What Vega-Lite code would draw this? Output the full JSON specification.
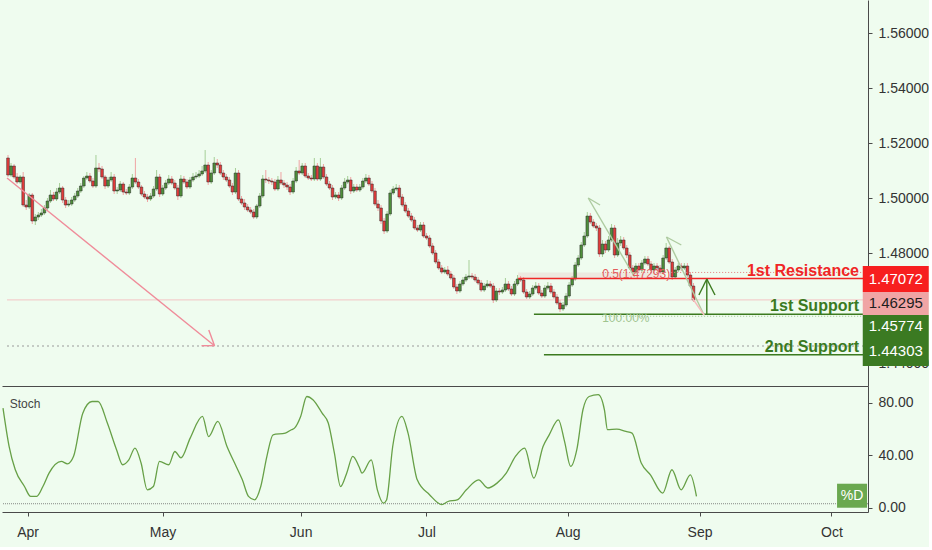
{
"$schema":"https://vega.github.io/schema/vega-lite/v6.json",
"background":"#effcef",
"padding":{"left":0,"top":0,"right":0,"bottom":8},
"spacing":0,
"datasets":{
"candles":[
{"bar":0,"o":1.51455,"h":1.51564,"l":1.50764,"c":1.50836},
{"bar":1,"o":1.50836,"h":1.51273,"l":1.50764,"c":1.51164},
{"bar":2,"o":1.51164,"h":1.51236,"l":1.50691,"c":1.50764},
{"bar":3,"o":1.50764,"h":1.50909,"l":1.50509,"c":1.50582},
{"bar":4,"o":1.50582,"h":1.50836,"l":1.50509,"c":1.50764},
{"bar":5,"o":1.50764,"h":1.50945,"l":1.49673,"c":1.49745},
{"bar":6,"o":1.49745,"h":1.49927,"l":1.49564,"c":1.49673},
{"bar":7,"o":1.49673,"h":1.50182,"l":1.496,"c":1.50109},
{"bar":8,"o":1.50109,"h":1.50182,"l":1.49055,"c":1.49164},
{"bar":9,"o":1.49164,"h":1.49418,"l":1.49018,"c":1.49309},
{"bar":10,"o":1.49309,"h":1.49491,"l":1.492,"c":1.49382},
{"bar":11,"o":1.49382,"h":1.496,"l":1.49309,"c":1.49455},
{"bar":12,"o":1.49455,"h":1.49745,"l":1.49382,"c":1.49636},
{"bar":13,"o":1.49636,"h":1.5,"l":1.49564,"c":1.49891},
{"bar":14,"o":1.49891,"h":1.50291,"l":1.49818,"c":1.50109},
{"bar":15,"o":1.50109,"h":1.50218,"l":1.49891,"c":1.49964},
{"bar":16,"o":1.49964,"h":1.50364,"l":1.49891,"c":1.50218},
{"bar":17,"o":1.50218,"h":1.50545,"l":1.50145,"c":1.50364},
{"bar":18,"o":1.50364,"h":1.50436,"l":1.49818,"c":1.49927},
{"bar":19,"o":1.49927,"h":1.50036,"l":1.49636,"c":1.49745},
{"bar":20,"o":1.49745,"h":1.49927,"l":1.49673,"c":1.49782},
{"bar":21,"o":1.49782,"h":1.50036,"l":1.49709,"c":1.49927},
{"bar":22,"o":1.49927,"h":1.50182,"l":1.49855,"c":1.50073},
{"bar":23,"o":1.50073,"h":1.50364,"l":1.5,"c":1.50255},
{"bar":24,"o":1.50255,"h":1.50545,"l":1.50182,"c":1.50436},
{"bar":25,"o":1.50436,"h":1.508,"l":1.50364,"c":1.50727},
{"bar":26,"o":1.50727,"h":1.50945,"l":1.50655,"c":1.508},
{"bar":27,"o":1.508,"h":1.50909,"l":1.50545,"c":1.50618},
{"bar":28,"o":1.50618,"h":1.50727,"l":1.50364,"c":1.50436},
{"bar":29,"o":1.50436,"h":1.51564,"l":1.50364,"c":1.51091},
{"bar":30,"o":1.51091,"h":1.51273,"l":1.50945,"c":1.51055},
{"bar":31,"o":1.51055,"h":1.51164,"l":1.50691,"c":1.50764},
{"bar":32,"o":1.50764,"h":1.50836,"l":1.50327,"c":1.50436},
{"bar":33,"o":1.50436,"h":1.50764,"l":1.50364,"c":1.50655},
{"bar":34,"o":1.50655,"h":1.50945,"l":1.50582,"c":1.50764},
{"bar":35,"o":1.50764,"h":1.50873,"l":1.50145,"c":1.50255},
{"bar":36,"o":1.50255,"h":1.504,"l":1.50145,"c":1.50291},
{"bar":37,"o":1.50291,"h":1.50618,"l":1.50218,"c":1.50509},
{"bar":38,"o":1.50509,"h":1.50582,"l":1.50109,"c":1.50218},
{"bar":39,"o":1.50218,"h":1.50327,"l":1.50109,"c":1.50182},
{"bar":40,"o":1.50182,"h":1.50509,"l":1.50109,"c":1.504},
{"bar":41,"o":1.504,"h":1.50873,"l":1.50327,"c":1.50727},
{"bar":42,"o":1.50727,"h":1.51455,"l":1.50509,"c":1.50582},
{"bar":43,"o":1.50582,"h":1.50691,"l":1.50327,"c":1.504},
{"bar":44,"o":1.504,"h":1.50473,"l":1.50073,"c":1.50145},
{"bar":45,"o":1.50145,"h":1.50255,"l":1.49964,"c":1.50036},
{"bar":46,"o":1.50036,"h":1.50145,"l":1.49855,"c":1.49964},
{"bar":47,"o":1.49964,"h":1.50182,"l":1.49891,"c":1.50073},
{"bar":48,"o":1.50073,"h":1.50436,"l":1.5,"c":1.50327},
{"bar":49,"o":1.50327,"h":1.51018,"l":1.50255,"c":1.50764},
{"bar":50,"o":1.50764,"h":1.50873,"l":1.50036,"c":1.50145},
{"bar":51,"o":1.50145,"h":1.50473,"l":1.50073,"c":1.50364},
{"bar":52,"o":1.50364,"h":1.50655,"l":1.50291,"c":1.50545},
{"bar":53,"o":1.50545,"h":1.50836,"l":1.50473,"c":1.50691},
{"bar":54,"o":1.50691,"h":1.508,"l":1.50473,"c":1.50545},
{"bar":55,"o":1.50545,"h":1.50655,"l":1.50291,"c":1.50364},
{"bar":56,"o":1.50364,"h":1.50473,"l":1.49927,"c":1.50073},
{"bar":57,"o":1.50073,"h":1.50836,"l":1.5,"c":1.50691},
{"bar":58,"o":1.50691,"h":1.508,"l":1.50509,"c":1.50582},
{"bar":59,"o":1.50582,"h":1.50691,"l":1.50327,"c":1.504},
{"bar":60,"o":1.504,"h":1.50764,"l":1.50327,"c":1.50655},
{"bar":61,"o":1.50655,"h":1.50909,"l":1.50582,"c":1.50764},
{"bar":62,"o":1.50764,"h":1.50945,"l":1.50691,"c":1.508},
{"bar":63,"o":1.508,"h":1.51018,"l":1.50727,"c":1.50873},
{"bar":64,"o":1.50873,"h":1.51164,"l":1.508,"c":1.50982},
{"bar":65,"o":1.50982,"h":1.51745,"l":1.50909,"c":1.512},
{"bar":66,"o":1.512,"h":1.51309,"l":1.50473,"c":1.50582},
{"bar":67,"o":1.50582,"h":1.51018,"l":1.50509,"c":1.50909},
{"bar":68,"o":1.50909,"h":1.51491,"l":1.50836,"c":1.51273},
{"bar":69,"o":1.51273,"h":1.51418,"l":1.51091,"c":1.512},
{"bar":70,"o":1.512,"h":1.51309,"l":1.50836,"c":1.50909},
{"bar":71,"o":1.50909,"h":1.51018,"l":1.50655,"c":1.50764},
{"bar":72,"o":1.50764,"h":1.50873,"l":1.50582,"c":1.50655},
{"bar":73,"o":1.50655,"h":1.50764,"l":1.50364,"c":1.50436},
{"bar":74,"o":1.50436,"h":1.50545,"l":1.50109,"c":1.50218},
{"bar":75,"o":1.50218,"h":1.51091,"l":1.50145,"c":1.50909},
{"bar":76,"o":1.50909,"h":1.51018,"l":1.49891,"c":1.49964},
{"bar":77,"o":1.49964,"h":1.50073,"l":1.49745,"c":1.49818},
{"bar":78,"o":1.49818,"h":1.49964,"l":1.49564,"c":1.49673},
{"bar":79,"o":1.49673,"h":1.49782,"l":1.49491,"c":1.49564},
{"bar":80,"o":1.49564,"h":1.49673,"l":1.49418,"c":1.49491},
{"bar":81,"o":1.49491,"h":1.496,"l":1.49236,"c":1.49309},
{"bar":82,"o":1.49309,"h":1.49782,"l":1.49236,"c":1.49709},
{"bar":83,"o":1.49709,"h":1.50182,"l":1.49636,"c":1.50073},
{"bar":84,"o":1.50073,"h":1.50836,"l":1.5,"c":1.50691},
{"bar":85,"o":1.50691,"h":1.51018,"l":1.50545,"c":1.50655},
{"bar":86,"o":1.50655,"h":1.50764,"l":1.50509,"c":1.50618},
{"bar":87,"o":1.50618,"h":1.50727,"l":1.50473,"c":1.50582},
{"bar":88,"o":1.50582,"h":1.50691,"l":1.50255,"c":1.50327},
{"bar":89,"o":1.50327,"h":1.508,"l":1.50255,"c":1.50655},
{"bar":90,"o":1.50655,"h":1.50945,"l":1.50473,"c":1.50545},
{"bar":91,"o":1.50545,"h":1.50655,"l":1.50364,"c":1.50473},
{"bar":92,"o":1.50473,"h":1.50582,"l":1.50291,"c":1.504},
{"bar":93,"o":1.504,"h":1.50509,"l":1.50109,"c":1.50218},
{"bar":94,"o":1.50218,"h":1.50727,"l":1.50145,"c":1.50618},
{"bar":95,"o":1.50618,"h":1.51127,"l":1.50545,"c":1.50982},
{"bar":96,"o":1.50982,"h":1.51382,"l":1.50836,"c":1.50909},
{"bar":97,"o":1.50909,"h":1.51273,"l":1.50836,"c":1.51164},
{"bar":98,"o":1.51164,"h":1.51273,"l":1.50727,"c":1.508},
{"bar":99,"o":1.508,"h":1.50909,"l":1.50655,"c":1.50727},
{"bar":100,"o":1.50727,"h":1.50836,"l":1.50618,"c":1.50691},
{"bar":101,"o":1.50691,"h":1.51455,"l":1.50618,"c":1.51164},
{"bar":102,"o":1.51164,"h":1.51273,"l":1.50618,"c":1.50691},
{"bar":103,"o":1.50691,"h":1.51455,"l":1.50618,"c":1.51127},
{"bar":104,"o":1.51127,"h":1.51236,"l":1.50691,"c":1.50764},
{"bar":105,"o":1.50764,"h":1.50873,"l":1.50436,"c":1.50509},
{"bar":106,"o":1.50509,"h":1.50618,"l":1.50291,"c":1.50364},
{"bar":107,"o":1.50364,"h":1.50473,"l":1.49927,"c":1.50036},
{"bar":108,"o":1.50036,"h":1.50218,"l":1.49964,"c":1.50109},
{"bar":109,"o":1.50109,"h":1.50218,"l":1.49891,"c":1.5},
{"bar":110,"o":1.5,"h":1.50473,"l":1.49927,"c":1.50364},
{"bar":111,"o":1.50364,"h":1.50727,"l":1.50291,"c":1.50582},
{"bar":112,"o":1.50582,"h":1.508,"l":1.50509,"c":1.50655},
{"bar":113,"o":1.50655,"h":1.50764,"l":1.50145,"c":1.50255},
{"bar":114,"o":1.50255,"h":1.50509,"l":1.50182,"c":1.504},
{"bar":115,"o":1.504,"h":1.50509,"l":1.50218,"c":1.50291},
{"bar":116,"o":1.50291,"h":1.50509,"l":1.50218,"c":1.504},
{"bar":117,"o":1.504,"h":1.50727,"l":1.50327,"c":1.50618},
{"bar":118,"o":1.50618,"h":1.50873,"l":1.50545,"c":1.50727},
{"bar":119,"o":1.50727,"h":1.50836,"l":1.50436,"c":1.50509},
{"bar":120,"o":1.50509,"h":1.50618,"l":1.50182,"c":1.50255},
{"bar":121,"o":1.50255,"h":1.50364,"l":1.49709,"c":1.49782},
{"bar":122,"o":1.49782,"h":1.49927,"l":1.49527,"c":1.49636},
{"bar":123,"o":1.49636,"h":1.49745,"l":1.49055,"c":1.49164},
{"bar":124,"o":1.49164,"h":1.49273,"l":1.48691,"c":1.488},
{"bar":125,"o":1.488,"h":1.49527,"l":1.48727,"c":1.49418},
{"bar":126,"o":1.49418,"h":1.50291,"l":1.49345,"c":1.50182},
{"bar":127,"o":1.50182,"h":1.50436,"l":1.50109,"c":1.50327},
{"bar":128,"o":1.50327,"h":1.50509,"l":1.50255,"c":1.50364},
{"bar":129,"o":1.50364,"h":1.50473,"l":1.49964,"c":1.50036},
{"bar":130,"o":1.50036,"h":1.50145,"l":1.49673,"c":1.49745},
{"bar":131,"o":1.49745,"h":1.49855,"l":1.49455,"c":1.49527},
{"bar":132,"o":1.49527,"h":1.49636,"l":1.49273,"c":1.49345},
{"bar":133,"o":1.49345,"h":1.49455,"l":1.49127,"c":1.492},
{"bar":134,"o":1.492,"h":1.49309,"l":1.48836,"c":1.48909},
{"bar":135,"o":1.48909,"h":1.49018,"l":1.48764,"c":1.48836},
{"bar":136,"o":1.48836,"h":1.49127,"l":1.48764,"c":1.49018},
{"bar":137,"o":1.49018,"h":1.49127,"l":1.48545,"c":1.48618},
{"bar":138,"o":1.48618,"h":1.48727,"l":1.48473,"c":1.48545},
{"bar":139,"o":1.48545,"h":1.48655,"l":1.48182,"c":1.48255},
{"bar":140,"o":1.48255,"h":1.48364,"l":1.47927,"c":1.48},
{"bar":141,"o":1.48,"h":1.48109,"l":1.476,"c":1.47673},
{"bar":142,"o":1.47673,"h":1.47782,"l":1.47382,"c":1.47455},
{"bar":143,"o":1.47455,"h":1.47564,"l":1.47236,"c":1.47309},
{"bar":144,"o":1.47309,"h":1.47491,"l":1.47236,"c":1.47382},
{"bar":145,"o":1.47382,"h":1.47527,"l":1.47164,"c":1.47236},
{"bar":146,"o":1.47236,"h":1.47345,"l":1.47018,"c":1.47091},
{"bar":147,"o":1.47091,"h":1.472,"l":1.46691,"c":1.46764},
{"bar":148,"o":1.46764,"h":1.46873,"l":1.46509,"c":1.46618},
{"bar":149,"o":1.46618,"h":1.46982,"l":1.46545,"c":1.46873},
{"bar":150,"o":1.46873,"h":1.47127,"l":1.468,"c":1.47018},
{"bar":151,"o":1.47018,"h":1.47236,"l":1.46945,"c":1.47127},
{"bar":152,"o":1.47127,"h":1.47745,"l":1.47055,"c":1.47164},
{"bar":153,"o":1.47164,"h":1.47273,"l":1.47055,"c":1.47127},
{"bar":154,"o":1.47127,"h":1.47236,"l":1.46945,"c":1.47018},
{"bar":155,"o":1.47018,"h":1.47127,"l":1.46836,"c":1.46909},
{"bar":156,"o":1.46909,"h":1.47018,"l":1.46582,"c":1.46655},
{"bar":157,"o":1.46655,"h":1.46909,"l":1.46582,"c":1.468},
{"bar":158,"o":1.468,"h":1.47018,"l":1.46727,"c":1.46873},
{"bar":159,"o":1.46873,"h":1.46982,"l":1.46727,"c":1.468},
{"bar":160,"o":1.468,"h":1.46909,"l":1.46182,"c":1.46291},
{"bar":161,"o":1.46291,"h":1.46727,"l":1.46218,"c":1.46618},
{"bar":162,"o":1.46618,"h":1.46727,"l":1.46473,"c":1.46582},
{"bar":163,"o":1.46582,"h":1.46764,"l":1.46509,"c":1.46655},
{"bar":164,"o":1.46655,"h":1.47091,"l":1.46582,"c":1.46873},
{"bar":165,"o":1.46873,"h":1.46982,"l":1.46618,"c":1.46691},
{"bar":166,"o":1.46691,"h":1.468,"l":1.46436,"c":1.46509},
{"bar":167,"o":1.46509,"h":1.46982,"l":1.46436,"c":1.46873},
{"bar":168,"o":1.46873,"h":1.472,"l":1.468,"c":1.47055},
{"bar":169,"o":1.47055,"h":1.47164,"l":1.46945,"c":1.47018},
{"bar":170,"o":1.47018,"h":1.47127,"l":1.46509,"c":1.46582},
{"bar":171,"o":1.46582,"h":1.46691,"l":1.46327,"c":1.464},
{"bar":172,"o":1.464,"h":1.46618,"l":1.46327,"c":1.46509},
{"bar":173,"o":1.46509,"h":1.46836,"l":1.46436,"c":1.46727},
{"bar":174,"o":1.46727,"h":1.46945,"l":1.46655,"c":1.468},
{"bar":175,"o":1.468,"h":1.46909,"l":1.46473,"c":1.46545},
{"bar":176,"o":1.46545,"h":1.46655,"l":1.46364,"c":1.46436},
{"bar":177,"o":1.46436,"h":1.46836,"l":1.46364,"c":1.46727},
{"bar":178,"o":1.46727,"h":1.46945,"l":1.46655,"c":1.468},
{"bar":179,"o":1.468,"h":1.46909,"l":1.46509,"c":1.46582},
{"bar":180,"o":1.46582,"h":1.46691,"l":1.46327,"c":1.464},
{"bar":181,"o":1.464,"h":1.46509,"l":1.46109,"c":1.46182},
{"bar":182,"o":1.46182,"h":1.46291,"l":1.45855,"c":1.45964},
{"bar":183,"o":1.45964,"h":1.46218,"l":1.45891,"c":1.46109},
{"bar":184,"o":1.46109,"h":1.46545,"l":1.46036,"c":1.46436},
{"bar":185,"o":1.46436,"h":1.46945,"l":1.46364,"c":1.46836},
{"bar":186,"o":1.46836,"h":1.47164,"l":1.46764,"c":1.47055},
{"bar":187,"o":1.47055,"h":1.47673,"l":1.46982,"c":1.47564},
{"bar":188,"o":1.47564,"h":1.47927,"l":1.47491,"c":1.47818},
{"bar":189,"o":1.47818,"h":1.484,"l":1.47745,"c":1.48291},
{"bar":190,"o":1.48291,"h":1.48764,"l":1.48218,"c":1.48618},
{"bar":191,"o":1.48618,"h":1.49491,"l":1.48545,"c":1.49345},
{"bar":192,"o":1.49345,"h":1.49455,"l":1.49055,"c":1.49127},
{"bar":193,"o":1.49127,"h":1.49236,"l":1.48909,"c":1.48982},
{"bar":194,"o":1.48982,"h":1.49091,"l":1.488,"c":1.48909},
{"bar":195,"o":1.48909,"h":1.49018,"l":1.47855,"c":1.47964},
{"bar":196,"o":1.47964,"h":1.48473,"l":1.47855,"c":1.48327},
{"bar":197,"o":1.48327,"h":1.48436,"l":1.48,"c":1.48109},
{"bar":198,"o":1.48109,"h":1.48618,"l":1.48036,"c":1.48473},
{"bar":199,"o":1.48473,"h":1.49055,"l":1.484,"c":1.48909},
{"bar":200,"o":1.48909,"h":1.49018,"l":1.47818,"c":1.47927},
{"bar":201,"o":1.47927,"h":1.48545,"l":1.47855,"c":1.48364},
{"bar":202,"o":1.48364,"h":1.48618,"l":1.48255,"c":1.48473},
{"bar":203,"o":1.48473,"h":1.48582,"l":1.48109,"c":1.48182},
{"bar":204,"o":1.48182,"h":1.48291,"l":1.47818,"c":1.47927},
{"bar":205,"o":1.47927,"h":1.48036,"l":1.47382,"c":1.47455},
{"bar":206,"o":1.47455,"h":1.47564,"l":1.472,"c":1.47309},
{"bar":207,"o":1.47309,"h":1.47636,"l":1.47236,"c":1.47527},
{"bar":208,"o":1.47527,"h":1.47636,"l":1.47309,"c":1.47382},
{"bar":209,"o":1.47382,"h":1.47745,"l":1.47309,"c":1.47636},
{"bar":210,"o":1.47636,"h":1.47891,"l":1.47564,"c":1.47782},
{"bar":211,"o":1.47782,"h":1.47891,"l":1.47527,"c":1.476},
{"bar":212,"o":1.476,"h":1.47709,"l":1.47309,"c":1.47382},
{"bar":213,"o":1.47382,"h":1.47636,"l":1.47309,"c":1.47527},
{"bar":214,"o":1.47527,"h":1.47636,"l":1.47345,"c":1.47455},
{"bar":215,"o":1.47455,"h":1.47564,"l":1.47236,"c":1.47309},
{"bar":216,"o":1.47309,"h":1.47927,"l":1.47236,"c":1.47818},
{"bar":217,"o":1.47818,"h":1.48364,"l":1.47745,"c":1.48182},
{"bar":218,"o":1.48182,"h":1.48255,"l":1.476,"c":1.47673},
{"bar":219,"o":1.47673,"h":1.47782,"l":1.47018,"c":1.47127},
{"bar":220,"o":1.47127,"h":1.47491,"l":1.47055,"c":1.47382},
{"bar":221,"o":1.47382,"h":1.47636,"l":1.47309,"c":1.47527},
{"bar":222,"o":1.47527,"h":1.47636,"l":1.47345,"c":1.47455},
{"bar":223,"o":1.47455,"h":1.47636,"l":1.47382,"c":1.47527},
{"bar":224,"o":1.47527,"h":1.47636,"l":1.47127,"c":1.472},
{"bar":225,"o":1.472,"h":1.47309,"l":1.46727,"c":1.468},
{"bar":226,"o":1.468,"h":1.46909,"l":1.46218,"c":1.46295}
],
"stoch":[
{"bar":0,"d":76.1},{"bar":2,"d":46.8},{"bar":4,"d":29.1},{"bar":7,"d":16.3},{"bar":9,"d":8.8},{"bar":11,"d":8.8},{"bar":13,"d":16.3},{"bar":15,"d":26.5},{"bar":19,"d":35.4},{"bar":21,"d":33.6},{"bar":23,"d":39.3},{"bar":26,"d":72.2},{"bar":29,"d":81.1},{"bar":31,"d":81.1},{"bar":34,"d":64.7},{"bar":37,"d":44.4},{"bar":39,"d":32.9},{"bar":41,"d":36.6},{"bar":43,"d":45.6},{"bar":45,"d":34.2},{"bar":47,"d":13.8},{"bar":49,"d":16.3},{"bar":51,"d":35.4},{"bar":54,"d":32.9},{"bar":56,"d":43.0},{"bar":58,"d":38.1},{"bar":61,"d":53.2},{"bar":65,"d":69.7},{"bar":67,"d":54.4},{"bar":70,"d":65.9},{"bar":73,"d":46.8},{"bar":76,"d":31.6},{"bar":78,"d":21.4},{"bar":80,"d":8.8},{"bar":82,"d":6.2},{"bar":84,"d":16.3},{"bar":86,"d":39.3},{"bar":88,"d":55.7},{"bar":92,"d":57.0},{"bar":94,"d":59.6},{"bar":95,"d":60.8},{"bar":97,"d":69.7},{"bar":99,"d":84.9},{"bar":101,"d":82.4},{"bar":104,"d":72.2},{"bar":106,"d":64.7},{"bar":108,"d":41.7},{"bar":110,"d":16.3},{"bar":112,"d":26.5},{"bar":114,"d":39.3},{"bar":116,"d":31.6},{"bar":117,"d":26.5},{"bar":120,"d":36.6},{"bar":122,"d":13.8},{"bar":124,"d":3.7},{"bar":125,"d":6.1},{"bar":127,"d":46.8},{"bar":130,"d":69.7},{"bar":132,"d":57.0},{"bar":135,"d":21.4},{"bar":139,"d":10.1},{"bar":143,"d":2.5},{"bar":145,"d":4.9},{"bar":148,"d":6.1},{"bar":151,"d":13.8},{"bar":155,"d":21.4},{"bar":158,"d":15.2},{"bar":161,"d":18.9},{"bar":164,"d":26.5},{"bar":167,"d":39.3},{"bar":170,"d":45.6},{"bar":173,"d":22.8},{"bar":176,"d":46.8},{"bar":178,"d":55.7},{"bar":181,"d":67.1},{"bar":183,"d":50.7},{"bar":185,"d":31.6},{"bar":187,"d":44.4},{"bar":189,"d":74.8},{"bar":191,"d":84.9},{"bar":194,"d":86.3},{"bar":196,"d":74.8},{"bar":197,"d":59.6},{"bar":200,"d":60.0},{"bar":203,"d":58.3},{"bar":205,"d":57.0},{"bar":208,"d":34.2},{"bar":211,"d":25.2},{"bar":215,"d":11.3},{"bar":218,"d":29.1},{"bar":221,"d":13.8},{"bar":224,"d":25.2},{"bar":226,"d":8.8}
],
"levels":[
{"name":"price","p":1.46295,"x1":-0.33,"x2":281.9,"label":""},
{"name":"range","p":1.44618,"x1":-0.33,"x2":281.9,"label":""},
{"name":"resistance","p":1.47072,"x1":168.2,"x2":281.9,"label":"1st Resistance"},
{"name":"support1","p":1.45774,"x1":173.4,"x2":281.9,"label":"1st Support"},
{"name":"support2","p":1.44303,"x1":176.7,"x2":281.9,"label":"2nd Support"},
{"name":"fib05","p":1.47293,"x1":195.9,"x2":281.9,"label":"0.5(1.47293)"},
{"name":"fib100","p":1.457,"x1":195.9,"x2":281.9,"label":"100.00%"}
],
"segs":[
{"kind":"band","x1":168.2,"p1":1.47293,"x2":215.8,"p2":1.47072},
{"kind":"trend","x1":-0.33,"p1":1.50727,"x2":68.1,"p2":1.44629},
{"kind":"trend","x1":68.1,"p1":1.44629,"x2":66.2,"p2":1.452},
{"kind":"trend","x1":68.1,"p1":1.44629,"x2":63.8,"p2":1.44629},
{"kind":"arrow","x1":230.4,"p1":1.45745,"x2":230.4,"p2":1.47055},
{"kind":"arrow","x1":230.4,"p1":1.47055,"x2":227.8,"p2":1.46473},
{"kind":"arrow","x1":230.4,"p1":1.47055,"x2":233.1,"p2":1.46473},
{"kind":"pattern","x1":191.3,"p1":1.5,"x2":195.2,"p2":1.49745},
{"kind":"pattern","x1":191.3,"p1":1.5,"x2":206.6,"p2":1.47127},
{"kind":"pattern","x1":217.1,"p1":1.48582,"x2":222.0,"p2":1.48291},
{"kind":"pattern","x1":217.1,"p1":1.48582,"x2":229.5,"p2":1.45745},
{"kind":"faint","x1":225.6,"p1":1.46364,"x2":229.5,"p2":1.45745}
],
"tags":[
{"t":"1.47072","p":1.47072},
{"t":"1.46295","p":1.46295},
{"t":"1.45774","p":1.45774},
{"t":"1.44303","p":1.44303}
]
},
"vconcat":[
{
"width":866,"height":386,
"layer":[
{"data":{"name":"segs"},"transform":[{"filter":"datum.kind=='band'"}],
 "mark":{"type":"rect","color":"#e9bdbd","opacity":0.3},
 "encoding":{
  "x":{"field":"x1","type":"quantitative","title":null,"scale":{"domain":[-0.33,281.9],"nice":false,"zero":false},
   "axis":{"orient":"bottom","labels":false,"ticks":false,"domain":true,"domainColor":"#4a4a4a","grid":false,"title":null}},
  "x2":{"field":"x2"},
  "y":{"field":"p1","type":"quantitative","title":null,"scale":{"domain":[1.43164,1.572],"nice":false,"zero":false},
   "axis":{"orient":"right","values":[1.44,1.48,1.5,1.52,1.54,1.56],"format":".5f","tickSize":4,"labelPadding":6,"domainColor":"#4a4a4a","tickColor":"#4a4a4a","labelColor":"#333333","labelFontSize":14,"grid":false,"title":null}},
  "y2":{"field":"p2"}}},
{"data":{"name":"levels"},"transform":[{"filter":"datum.name=='price'"}],
 "mark":{"type":"rule","color":"#f3c4c4","strokeWidth":1},
 "encoding":{"x":{"field":"x1","type":"quantitative","title":null},"x2":{"field":"x2"},"y":{"field":"p","type":"quantitative","title":null}}},
{"data":{"name":"levels"},"transform":[{"filter":"datum.name=='range'"}],
 "mark":{"type":"rule","color":"#9a9a9a","strokeWidth":1,"strokeDash":[2,3]},
 "encoding":{"x":{"field":"x1","type":"quantitative","title":null},"x2":{"field":"x2"},"y":{"field":"p","type":"quantitative","title":null}}},
{"data":{"name":"candles"},
 "mark":{"type":"rule","strokeWidth":1},
 "encoding":{"x":{"field":"bar","type":"quantitative","title":null},"y":{"field":"l","type":"quantitative","title":null},"y2":{"field":"h"},
  "color":{"condition":{"test":"datum.c < datum.o","value":"#f0a3a3"},"value":"#a6cf97"}}},
{"data":{"name":"candles"},
 "mark":{"type":"bar","width":2.7,"stroke":"#2a2a2a","strokeWidth":0.5},
 "encoding":{"x":{"field":"bar","type":"quantitative","title":null},"y":{"field":"o","type":"quantitative","title":null},"y2":{"field":"c"},
  "color":{"condition":{"test":"datum.c < datum.o","value":"#e23b3b"},"value":"#4e8e3a"}}},
{"data":{"name":"levels"},"transform":[{"filter":"datum.name=='fib05' || datum.name=='fib100'"}],
 "mark":{"type":"rule","strokeWidth":1,"strokeDash":[1,2]},
 "encoding":{"x":{"field":"x1","type":"quantitative","title":null},"x2":{"field":"x2"},"y":{"field":"p","type":"quantitative","title":null},
  "color":{"condition":{"test":"datum.name=='fib05'","value":"#e57b7b"},"value":"#9dbf8f"}}},
{"data":{"name":"levels"},"transform":[{"filter":"datum.name=='resistance' || datum.name=='support1' || datum.name=='support2'"}],
 "mark":{"type":"rule","strokeWidth":1.6},
 "encoding":{"x":{"field":"x1","type":"quantitative","title":null},"x2":{"field":"x2"},"y":{"field":"p","type":"quantitative","title":null},
  "color":{"condition":{"test":"datum.name=='resistance'","value":"#f02626"},"value":"#3b7a1f"}}},
{"data":{"name":"segs"},"transform":[{"filter":"datum.kind!='band'"}],
 "mark":{"type":"rule","strokeWidth":1.4},
 "encoding":{"x":{"field":"x1","type":"quantitative","title":null},"x2":{"field":"x2"},"y":{"field":"p1","type":"quantitative","title":null},"y2":{"field":"p2"},
  "color":{"field":"kind","type":"nominal","legend":null,"scale":{"domain":["trend","arrow","pattern","faint"],"range":["#f08c9a","#3b7a1f","#aecba0","#f5bcbc"]}}}},
{"data":{"name":"levels"},"transform":[{"filter":"datum.name=='resistance' || datum.name=='support1' || datum.name=='support2'"}],
 "mark":{"type":"text","align":"right","baseline":"alphabetic","dx":-4,"dy":-3,"fontSize":16,"fontWeight":"bold"},
 "encoding":{"x":{"field":"x2","type":"quantitative","title":null},"y":{"field":"p","type":"quantitative","title":null},"text":{"field":"label"},
  "color":{"condition":{"test":"datum.name=='resistance'","value":"#f02626"},"value":"#3b7a1f"}}},
{"data":{"name":"levels"},"transform":[{"filter":"datum.name=='fib05' || datum.name=='fib100'"}],
 "mark":{"type":"text","align":"left","baseline":"middle","dy":2,"fontSize":12},
 "encoding":{"x":{"field":"x1","type":"quantitative","title":null},"y":{"field":"p","type":"quantitative","title":null},"text":{"field":"label"},
  "color":{"condition":{"test":"datum.name=='fib05'","value":"#e35d5d"},"value":"#9fc48f"}}},
{"data":{"name":"tags"},"transform":[{"filter":"datum.t=='1.47072'"}],
 "mark":{"type":"tick","orient":"horizontal","thickness":26,"size":66,"color":"#f71f1f","opacity":1,"yOffset":0.5},
 "encoding":{"x":{"datum":292.7,"type":"quantitative"},"y":{"field":"p","type":"quantitative","title":null}}},
{"data":{"name":"tags"},"transform":[{"filter":"datum.t=='1.46295'"}],
 "mark":{"type":"tick","orient":"horizontal","thickness":23,"size":66,"color":"#f0a5a5","opacity":1,"yOffset":3.5},
 "encoding":{"x":{"datum":292.7,"type":"quantitative"},"y":{"field":"p","type":"quantitative","title":null}}},
{"data":{"name":"tags"},"transform":[{"filter":"datum.t=='1.45774'"}],
 "mark":{"type":"tick","orient":"horizontal","thickness":21,"size":66,"color":"#3b7a22","opacity":1,"yOffset":11.3},
 "encoding":{"x":{"datum":292.7,"type":"quantitative"},"y":{"field":"p","type":"quantitative","title":null}}},
{"data":{"name":"tags"},"transform":[{"filter":"datum.t=='1.44303'"}],
 "mark":{"type":"tick","orient":"horizontal","thickness":30,"size":66,"color":"#3b7a22","opacity":1,"yOffset":-3.7},
 "encoding":{"x":{"datum":292.7,"type":"quantitative"},"y":{"field":"p","type":"quantitative","title":null}}},
{"data":{"name":"tags"},"transform":[{"filter":"datum.t=='1.47072'"}],
 "mark":{"type":"text","fontSize":15,"color":"#ffffff","align":"center","baseline":"middle","yOffset":0.5},
 "encoding":{"x":{"datum":292.7,"type":"quantitative"},"y":{"field":"p","type":"quantitative","title":null},"text":{"field":"t"}}},
{"data":{"name":"tags"},"transform":[{"filter":"datum.t=='1.46295'"}],
 "mark":{"type":"text","fontSize":15,"color":"#1e1e1e","align":"center","baseline":"middle","yOffset":3.5},
 "encoding":{"x":{"datum":292.7,"type":"quantitative"},"y":{"field":"p","type":"quantitative","title":null},"text":{"field":"t"}}},
{"data":{"name":"tags"},"transform":[{"filter":"datum.t=='1.45774'"}],
 "mark":{"type":"text","fontSize":15,"color":"#ffffff","align":"center","baseline":"middle","yOffset":11.3},
 "encoding":{"x":{"datum":292.7,"type":"quantitative"},"y":{"field":"p","type":"quantitative","title":null},"text":{"field":"t"}}},
{"data":{"name":"tags"},"transform":[{"filter":"datum.t=='1.44303'"}],
 "mark":{"type":"text","fontSize":15,"color":"#ffffff","align":"center","baseline":"middle","yOffset":-3.7},
 "encoding":{"x":{"datum":292.7,"type":"quantitative"},"y":{"field":"p","type":"quantitative","title":null},"text":{"field":"t"}}}
]
},
{
"width":866,"height":126,
"layer":[
{"data":{"values":[{"lvl":3.2}]},
 "mark":{"type":"rule","color":"#6b6b6b","strokeWidth":1,"strokeDash":[1,1],"opacity":0.8},
 "encoding":{"y":{"field":"lvl","type":"quantitative","title":null,"scale":{"domain":[-3.1,92.9],"nice":false,"zero":false},
  "axis":{"orient":"right","values":[0,40,80],"format":".2f","tickSize":4,"labelPadding":6,"domainColor":"#4a4a4a","tickColor":"#4a4a4a","labelColor":"#333333","labelFontSize":14,"grid":false,"title":null}}}},
{"data":{"name":"stoch"},
 "mark":{"type":"line","color":"#67a047","strokeWidth":1.3,"interpolate":"monotone"},
 "encoding":{
  "x":{"field":"bar","type":"quantitative","title":null,"scale":{"domain":[-0.33,281.9],"nice":false,"zero":false},
   "axis":{"orient":"bottom","values":[8,52,97,138,184,227,270],"labelExpr":"datum.value==8?'Apr':datum.value==52?'May':datum.value==97?'Jun':datum.value==138?'Jul':datum.value==184?'Aug':datum.value==227?'Sep':'Oct'","tickSize":4,"labelPadding":9,"domainColor":"#4a4a4a","tickColor":"#4a4a4a","labelColor":"#333333","labelFontSize":14,"grid":false,"title":null}},
  "y":{"field":"d","type":"quantitative","title":null}}},
{"data":{"values":[{"name":"Stoch"}]},
 "mark":{"type":"text","align":"left","baseline":"middle","fontSize":12,"color":"#444444"},
 "encoding":{"x":{"datum":2.2,"type":"quantitative"},"y":{"datum":79.5,"type":"quantitative"},"text":{"field":"name"}}},
{"data":{"values":[{"name":"%D"}]},
 "mark":{"type":"tick","orient":"horizontal","thickness":24,"size":30,"color":"#6aa84f","opacity":1},
 "encoding":{"x":{"datum":276.7,"type":"quantitative"},"y":{"datum":9.3,"type":"quantitative"}}},
{"data":{"values":[{"name":"%D"}]},
 "mark":{"type":"text","align":"center","baseline":"middle","fontSize":14,"color":"#ffffff"},
 "encoding":{"x":{"datum":276.7,"type":"quantitative"},"y":{"datum":9.3,"type":"quantitative"},"text":{"field":"name"}}}
]
}
],
"config":{
"view":{"stroke":null},
"font":"Liberation Sans, sans-serif",
"axis":{"labelFont":"Liberation Sans, sans-serif"},
"text":{"font":"Liberation Sans, sans-serif"}
}
}
